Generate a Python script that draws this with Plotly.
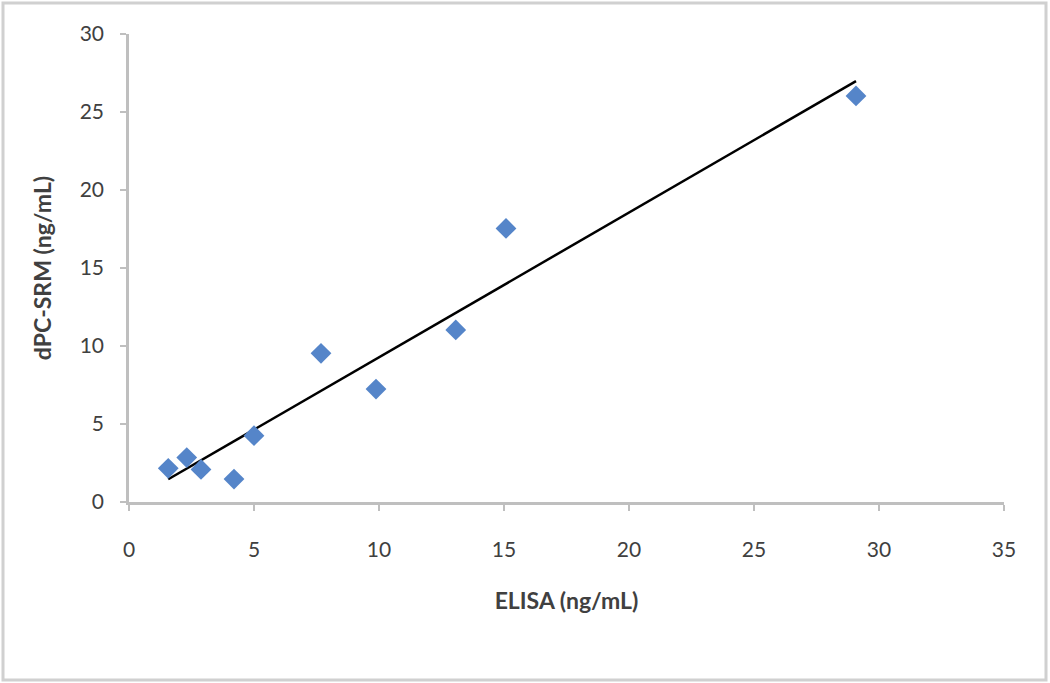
import numpy as np
import plotly.graph_objects as go

elisa = [1.57, 2.31, 2.88, 4.2, 5.0, 7.68, 9.88, 13.07, 15.08, 29.08]
dpc_srm = [2.16, 2.85, 2.09, 1.47, 4.25, 9.53, 7.24, 11.03, 17.54, 26.03]

x_ticks = [0, 5, 10, 15, 20, 25, 30, 35]
y_ticks = [0, 5, 10, 15, 20, 25, 30]

# linear trendline through the points (least squares)
slope, intercept = np.polyfit(elisa, dpc_srm, 1)
trend_x = [min(elisa), max(elisa)]
trend_y = [slope * v + intercept for v in trend_x]

W, H = 1050, 683
margin = dict(l=129, r=46, t=34, b=181)
pw = W - margin['l'] - margin['r']
ph = H - margin['t'] - margin['b']

text_color = '#404040'
axis_color = '#bfbfbf'
font_family = 'Lato, "Open Sans", sans-serif'

fig = go.Figure()

fig.add_trace(go.Scatter(
    x=trend_x, y=trend_y,
    mode='lines',
    line=dict(color='black', width=2.5),
    showlegend=False,
    hoverinfo='skip'
))

fig.add_trace(go.Scatter(
    x=elisa, y=dpc_srm,
    mode='markers',
    marker=dict(symbol='diamond', size=16, color='#5585c9',
                line=dict(width=0)),
    showlegend=False
))

# chart-area border
fig.add_shape(
    type='rect', xref='paper', yref='paper',
    x0=(3 - margin['l']) / pw, x1=(1046 - margin['l']) / pw,
    y0=(H - margin['b'] - 680) / ph, y1=(H - margin['b'] - 3) / ph,
    line=dict(color='#d0d0d0', width=3),
    layer='below'
)

fig.update_layout(
    width=W, height=H,
    margin=margin,
    plot_bgcolor='white',
    paper_bgcolor='white',
    font=dict(family=font_family, color=text_color, size=21),
    xaxis=dict(
        range=[0, 35],
        tickvals=x_ticks,
        showgrid=False, zeroline=False,
        showline=True, linecolor=axis_color, linewidth=2.5,
        ticks='outside', ticklen=6, tickwidth=1.5, tickcolor=axis_color,
        ticklabelstandoff=21,
        title=dict(text='ELISA (ng/mL)', standoff=33,
                   font=dict(size=23, weight='bold', color=text_color)),
    ),
    yaxis=dict(
        range=[0, 30],
        tickvals=y_ticks,
        showgrid=False, zeroline=False,
        showline=True, linecolor=axis_color, linewidth=2.5,
        ticks='outside', ticklen=6, tickwidth=1.5, tickcolor=axis_color,
        ticklabelstandoff=12,
        title=dict(text='dPC-SRM (ng/mL)', standoff=22,
                   font=dict(size=23, weight='bold', color=text_color)),
    ),
)

# the page body has a default margin; drop it so the figure sits at (0, 0)
fig.write_html("out.html", config={'displayModeBar': False},
               post_script="document.body.style.margin='0';")
